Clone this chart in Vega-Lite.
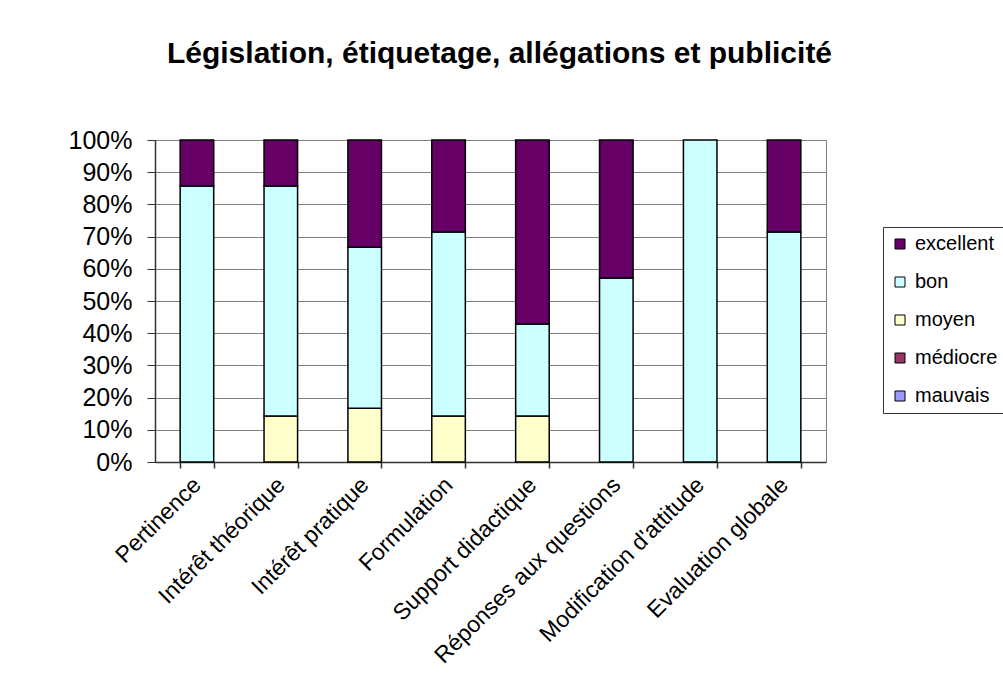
{
  "$schema": "https://vega.github.io/schema/vega-lite/v6.json",
  "width": 671,
  "height": 322,
  "autosize": {"type": "none"},
  "padding": {"left": 155, "top": 140, "right": 177, "bottom": 229},
  "background": "white",
  "config": {
    "font": "Liberation Sans",
    "view": {"stroke": "#808080", "strokeWidth": 1}
  },
  "title": {
    "text": "Législation, étiquetage, allégations et publicité",
    "fontSize": 30,
    "fontWeight": "bold",
    "color": "black",
    "anchor": "middle",
    "offset": 59,
    "dx": 9
  },
  "data": {
    "values": [
      {"critere": "Pertinence", "appreciation": "bon", "niveau": 4, "n": 6},
      {"critere": "Pertinence", "appreciation": "excellent", "niveau": 5, "n": 1},
      {"critere": "Intérêt théorique", "appreciation": "moyen", "niveau": 3, "n": 1},
      {"critere": "Intérêt théorique", "appreciation": "bon", "niveau": 4, "n": 5},
      {"critere": "Intérêt théorique", "appreciation": "excellent", "niveau": 5, "n": 1},
      {"critere": "Intérêt pratique", "appreciation": "moyen", "niveau": 3, "n": 1},
      {"critere": "Intérêt pratique", "appreciation": "bon", "niveau": 4, "n": 3},
      {"critere": "Intérêt pratique", "appreciation": "excellent", "niveau": 5, "n": 2},
      {"critere": "Formulation", "appreciation": "moyen", "niveau": 3, "n": 1},
      {"critere": "Formulation", "appreciation": "bon", "niveau": 4, "n": 4},
      {"critere": "Formulation", "appreciation": "excellent", "niveau": 5, "n": 2},
      {"critere": "Support didactique", "appreciation": "moyen", "niveau": 3, "n": 1},
      {"critere": "Support didactique", "appreciation": "bon", "niveau": 4, "n": 2},
      {"critere": "Support didactique", "appreciation": "excellent", "niveau": 5, "n": 4},
      {"critere": "Réponses aux questions", "appreciation": "bon", "niveau": 4, "n": 4},
      {"critere": "Réponses aux questions", "appreciation": "excellent", "niveau": 5, "n": 3},
      {"critere": "Modification d'attitude", "appreciation": "bon", "niveau": 4, "n": 7},
      {"critere": "Evaluation globale", "appreciation": "bon", "niveau": 4, "n": 5},
      {"critere": "Evaluation globale", "appreciation": "excellent", "niveau": 5, "n": 2}
    ]
  },
  "mark": {"type": "bar", "stroke": "black", "strokeWidth": 1.5},
  "encoding": {
    "x": {
      "field": "critere",
      "type": "nominal",
      "sort": ["Pertinence", "Intérêt théorique", "Intérêt pratique", "Formulation", "Support didactique", "Réponses aux questions", "Modification d'attitude", "Evaluation globale"],
      "scale": {"paddingInner": 0.6, "paddingOuter": 0.3},
      "axis": {
        "title": null,
        "tickBand": "extent",
        "labelAngle": -45,
        "labelAlign": "right",
        "labelBaseline": "middle",
        "labelFontSize": 23,
        "labelColor": "black",
        "labelPadding": 13,
        "labelLimit": 400,
        "labelOverlap": false,
        "domainColor": "#333333",
        "domainWidth": 1.5,
        "tickColor": "#333333",
        "tickWidth": 1.5,
        "tickSize": 6
      }
    },
    "y": {
      "field": "n",
      "type": "quantitative",
      "stack": "normalize",
      "axis": {
        "title": null,
        "format": ".0%",
        "values": [0, 0.1, 0.2, 0.3, 0.4, 0.5, 0.6, 0.7, 0.8, 0.9, 1],
        "labelFontSize": 25,
        "labelColor": "black",
        "labelPadding": 15,
        "labelOverlap": false,
        "grid": true,
        "gridColor": "#808080",
        "gridWidth": 1,
        "domainColor": "#333333",
        "domainWidth": 1.5,
        "tickColor": "#333333",
        "tickWidth": 1,
        "tickSize": 8
      }
    },
    "color": {
      "field": "appreciation",
      "type": "nominal",
      "scale": {
        "domain": ["excellent", "bon", "moyen", "médiocre", "mauvais"],
        "range": ["#660066", "#CCFFFF", "#FFFFCC", "#993366", "#9999FF"]
      },
      "legend": {
        "title": null,
        "orient": "none",
        "legendX": 728,
        "legendY": 87,
        "strokeColor": "#333333",
        "fillColor": "white",
        "padding": 7,
        "symbolType": "square",
        "symbolSize": 100,
        "symbolStrokeColor": "black",
        "symbolStrokeWidth": 1,
        "symbolOpacity": 1,
        "labelFontSize": 20,
        "labelColor": "black",
        "labelOffset": 5,
        "rowPadding": 18,
        "labelLimit": 300
      }
    },
    "order": {"field": "niveau", "type": "quantitative", "sort": "ascending"}
  }
}
